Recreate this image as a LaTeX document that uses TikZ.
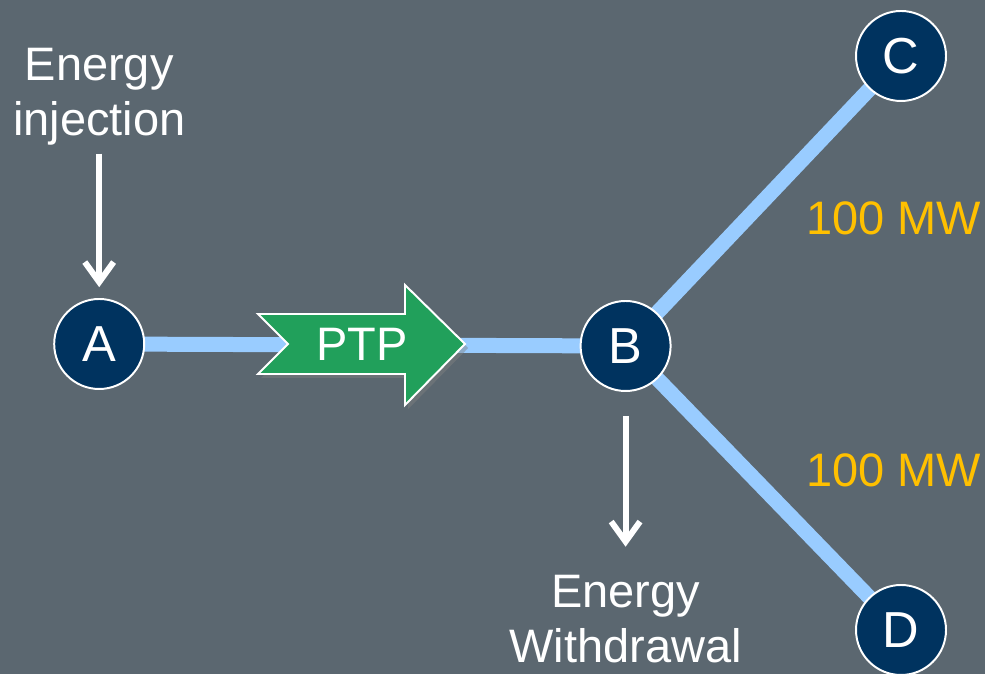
\documentclass[tikz,border=0pt]{standalone}
\usepackage{fontspec}
\setmainfont{Liberation Sans}
\usetikzlibrary{positioning,arrows.meta,shadows}

\definecolor{slate}{HTML}{5B6770}
\definecolor{navy}{HTML}{00335F}
\definecolor{lineblue}{HTML}{99CCFF}
\definecolor{ptpgreen}{HTML}{21A05B}
\definecolor{gold}{HTML}{FFC000}

\pgfdeclarelayer{bg}
\pgfdeclarelayer{lines}
\pgfsetlayers{bg,lines,main}

\begin{document}
\begin{tikzpicture}[every node/.style={font=\fontsize{33.4}{39}\selectfont, text=white},
    bus/.style={circle, fill=navy, draw=white, line width=1.4pt, minimum size=2.25cm, inner sep=0pt,
      font=\fontsize{36}{40}\selectfont},
    link/.style={draw=lineblue, line width=0.375cm},
    flow/.style={draw=white, line width=0.15cm, -{Straight Barb[length=0.5cm,width=0.72cm]}},
    lbl/.style={align=center, inner sep=0pt},
    mw/.style={text=gold, anchor=west, inner sep=0pt}]
    \begin{pgfonlayer}{bg}
      \fill[slate] (0,0) rectangle (24.625,16.85);
    \end{pgfonlayer}

    % buses
    \node[bus] (A) at (2.48,8.25) {A};
    \node[bus] (B) at (15.64,8.2) {B};
    \node[bus] (C) at (22.525,15.45) {C};
    \node[bus] (D) at (22.525,1.1) {D};

    % lines
    \begin{pgfonlayer}{lines}
      \draw[link] (A.center) -- (B.center);
      \draw[link] (B.center) -- (C.center);
      \draw[link] (B.center) -- (D.center);
    \end{pgfonlayer}

    % PTP arrow
    \draw[white, line width=1.4pt, fill=ptpgreen,
      drop shadow={shadow xshift=0.08cm, shadow yshift=-0.1cm, opacity=0.45}]
      (6.45,9.0) -- (7.2,8.25) -- (6.45,7.5) -- (10.125,7.5) -- (10.125,6.725)
      -- (11.625,8.25) -- (10.125,9.725) -- (10.125,9.0) -- cycle;
    \node (ptp) at (9.05,8.25) {PTP};

    % injection / withdrawal
    \node[lbl] (inj) at (2.48,14.43) {Energy\\injection};
    \node[lbl] (wd) at (15.64,1.38) {Energy\\Withdrawal};
    \draw[flow, shorten <=0.2cm, shorten >=0.27cm] (inj.south) -- (A.north);
    \draw[flow, shorten <=0.6cm, shorten >=0.7cm] (B.south) -- (wd.north);

    % flows
    \node[mw] (mwC) at (20.15,11.4) {100 MW};
    \node[mw] (mwD) at (20.15,5.1) {100 MW};
  \end{tikzpicture}
\end{document}
